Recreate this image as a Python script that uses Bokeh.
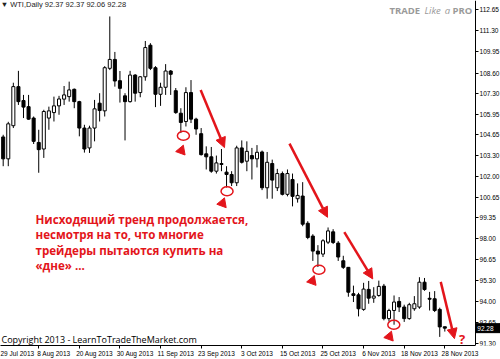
from bokeh.plotting import figure
from bokeh.models import (Range1d, FixedTicker, PrintfTickFormatter, Label, LinearAxis,
                          Arrow, NormalHead, ColumnDataSource)
from bokeh.core.properties import value
from bokeh.embed import file_html
from bokeh.resources import INLINE

RED = "#e3151b"

# ---- daily WTI bars, 30 Jul 2013 .. 28 Nov 2013 (one entry per trading day)
opens = [104.51, 103.11, 105.23, 107.73, 106.84, 106.45, 105.72, 104.16, 103.74, 105.72,
         106.07, 106.50, 106.93, 107.09, 107.56, 106.77, 105.08, 103.81, 105.08, 106.67,
         106.18, 108.90, 109.47, 108.11, 107.14, 106.77, 108.47, 107.35, 108.36, 110.38,
         108.94, 107.24, 107.69, 108.73, 107.47, 106.03, 105.50, 107.35, 105.65, 104.72,
         103.43, 103.24, 102.32, 102.81, 102.26, 102.11, 101.58, 103.81, 102.96, 103.32,
         103.11, 103.55, 101.26, 102.81, 101.26, 102.17, 100.84, 101.79, 100.56, 100.73,
         98.99, 98.17, 97.21, 97.02, 97.78, 98.44, 97.72, 96.59, 96.17, 94.48,
         94.41, 93.48, 94.76, 94.20, 94.37, 94.97, 92.89, 93.41, 93.99, 93.63,
         92.89, 93.52, 93.63, 95.22, 94.19, 94.16, 93.48, 92.37]
highs = [104.65, 105.48, 107.98, 108.74, 107.20, 107.20, 105.82, 104.97, 106.25, 106.45,
         107.09, 107.14, 107.77, 108.05, 107.61, 106.82, 105.29, 105.23, 106.88, 107.31,
         109.04, 112.22, 109.95, 108.73, 107.31, 108.74, 108.53, 108.41, 110.65, 110.51,
         109.04, 107.98, 109.17, 108.79, 107.64, 106.35, 107.69, 108.15, 105.74, 105.08,
         103.91, 103.87, 103.32, 103.74, 102.64, 102.32, 103.95, 104.29, 104.23, 103.81,
         103.99, 103.64, 103.55, 103.06, 102.47, 102.30, 102.43, 102.17, 101.54, 101.62,
         99.12, 98.29, 97.59, 97.97, 98.72, 98.61, 97.85, 96.91, 96.19, 95.00,
         94.54, 95.18, 95.30, 94.90, 95.32, 95.11, 93.52, 94.37, 94.27, 93.78,
         93.90, 94.33, 95.54, 95.49, 94.60, 94.65, 93.59, 92.37]
lows = [102.64, 102.64, 105.08, 106.56, 105.72, 105.61, 104.06, 102.22, 103.17, 104.97,
        105.50, 105.93, 106.56, 106.77, 106.35, 104.55, 103.51, 103.49, 104.23, 105.50,
        105.82, 108.79, 107.73, 106.71, 104.29, 106.71, 106.77, 107.05, 108.11, 108.79,
        106.42, 106.50, 107.20, 107.20, 105.99, 104.76, 105.18, 105.40, 104.65, 103.32,
        102.43, 102.22, 102.17, 102.32, 101.28, 101.37, 101.37, 102.81, 102.32, 101.79,
        102.56, 101.11, 100.56, 100.56, 101.05, 100.77, 100.71, 100.07, 100.31, 98.80,
        97.97, 96.58, 96.19, 96.83, 97.66, 97.66, 96.58, 96.07, 94.29, 93.95,
        93.03, 93.39, 93.84, 93.90, 94.29, 92.78, 92.70, 92.50, 93.31, 92.68,
        92.82, 93.39, 93.52, 94.67, 93.41, 93.31, 91.72, 92.06]
closes = [103.11, 105.35, 107.73, 106.77, 106.42, 105.65, 104.23, 103.70, 106.14, 106.18,
          106.50, 106.94, 107.20, 107.52, 106.77, 105.08, 103.74, 105.08, 106.31, 106.20,
          108.94, 109.47, 108.09, 107.62, 106.77, 108.47, 107.31, 108.36, 110.23, 108.90,
          107.24, 107.69, 108.73, 108.52, 106.07, 105.44, 107.35, 105.65, 105.02, 103.38,
          103.24, 102.32, 102.85, 102.75, 102.11, 101.58, 103.81, 102.89, 103.59, 103.11,
          103.53, 101.26, 102.89, 101.75, 102.17, 100.84, 102.17, 100.71, 100.77, 98.93,
          98.08, 97.21, 97.02, 97.87, 98.50, 97.76, 96.83, 96.17, 94.58, 94.37,
          93.52, 94.78, 94.20, 94.33, 94.95, 92.89, 93.41, 93.95, 93.63, 92.89,
          93.78, 93.84, 95.22, 94.75, 94.13, 93.41, 92.36, 92.28]

# ---- axis ticks
date_tick_idx = [-1, 7, 15, 23, 31, 39, 47, 55, 63, 71, 79, 87]
date_tick_labels = ["29 Jul 2013", "8 Aug 2013", "20 Aug 2013", "30 Aug 2013", "11 Sep 2013",
                    "23 Sep 2013", "3 Oct 2013", "15 Oct 2013", "25 Oct 2013", "6 Nov 2013",
                    "18 Nov 2013", "28 Nov 2013"]
price_ticks = [112.65, 111.30, 109.95, 108.60, 107.30, 105.95, 104.65, 103.30, 102.00,
               100.65, 99.35, 98.00, 96.65, 95.30, 94.00, 92.65, 91.30]
last_price = 92.28
header_text = "\u25bc WTI,Daily 92.37 92.37 92.06 92.28"

# ---- annotations (bar index / price)
arrow_x0 = [38.9, 56.4, 67.2, 86.2]
arrow_y0 = [107.52, 104.08, 98.42, 95.24]
arrow_x1 = [43.6, 63.9, 72.8, 88.9]
arrow_y1 = [103.83, 99.37, 95.43, 91.61]
ring_x = [35.5, 44.1, 62.2, 76.95]
ring_y = [104.59, 101.04, 96.02, 92.50]
dart_x = [35.1, 43.2, 60.9, 76.1]
dart_y = [103.64, 100.27, 95.30, 91.74]
note_lines = ["Нисходящий тренд продолжается,", "несмотря на то, что многие",
              "трейдеры пытаются купить на", "«дне» ..."]
note_y = [99.25, 98.26, 97.27, 96.27]

X_LEFT, CHART_END, X_RIGHT = -0.53, 93.05, 97.97   # chart area ends where the price scale starts

idx = list(range(len(opens)))
bull = [c >= o for o, c in zip(opens, closes)]
src = ColumnDataSource(dict(
    x=idx, h=highs, l=lows,
    top=[max(o, c) for o, c in zip(opens, closes)],
    bottom=[min(o, c) for o, c in zip(opens, closes)],
    fill=["white" if b else "black" for b in bull],
))

p = figure(width=500, height=359, output_backend="svg", toolbar_location=None,
           x_range=Range1d(X_LEFT, X_RIGHT), y_range=Range1d(91.17, 113.24),
           y_axis_location=None, min_border_left=0, min_border_top=0,
           min_border_right=0, min_border_bottom=12)
p.outline_line_color = None
p.grid.visible = False
p.background_fill_color = "white"
p.border_fill_color = "white"

p.segment("x", "h", "x", "l", source=src, color="black", line_width=1)
p.vbar(x="x", width=0.6, top="top", bottom="bottom", fill_color="fill",
       line_color="black", line_width=1, source=src)

# price scale (right side of the chart area)
ya = LinearAxis(fixed_location=CHART_END)
ya.ticker = FixedTicker(ticks=price_ticks)
ya.formatter = PrintfTickFormatter(format="%.2f")
ya.major_label_text_font = "Liberation Sans"
ya.major_label_text_font_size = "6.5px"
ya.major_label_text_color = "black"
ya.major_tick_out = 3
ya.major_tick_in = 0
ya.minor_tick_out = 0
ya.minor_tick_in = 0
ya.major_label_standoff = 1
ya.axis_line_color = "black"
p.add_layout(ya, "right")

# last price tag on the price scale
tag_x = CHART_END + (X_RIGHT - CHART_END) / 2
p.rect(x=[tag_x], y=[last_price], width=24, height=9, width_units="screen",
       height_units="screen", fill_color="black", line_color="black")
p.text(x=[CHART_END + 0.35], y=[last_price], text=["%.2f" % last_price],
       text_font=value("Liberation Sans"), text_font_size="6.5px", text_color="white",
       text_baseline="middle", text_align="left")

# date axis
xa = p.xaxis[0]
lab_pos = [i + 3 for i in date_tick_idx]
lab_pos[0] = date_tick_idx[0] + 2.5
xa.ticker = FixedTicker(ticks=lab_pos, minor_ticks=date_tick_idx)
xa.major_label_overrides = {lp: t for lp, t in zip(lab_pos, date_tick_labels)}
xa.bounds = (X_LEFT, CHART_END)
xa.major_label_text_font = "Liberation Sans"
xa.major_label_text_font_size = "6.5px"
xa.major_label_text_color = "black"
xa.major_tick_out = 0
xa.major_tick_in = 0
xa.minor_tick_out = 3
xa.minor_tick_in = 0
xa.major_label_standoff = 1
xa.axis_line_color = "black"

# annotations
asrc = ColumnDataSource(dict(x0=arrow_x0, y0=arrow_y0, x1=arrow_x1, y1=arrow_y1))
p.add_layout(Arrow(end=NormalHead(size=10, fill_color=RED, line_color=RED),
                   x_start="x0", y_start="y0", x_end="x1", y_end="y1",
                   line_color=RED, line_width=2.5, source=asrc))
p.ellipse(x=ring_x, y=ring_y, width=12, height=9, width_units="screen",
          height_units="screen", fill_color=None, line_color=RED, line_width=1.5)
p.scatter(x=dart_x, y=dart_y, marker="triangle", size=10, angle=-0.35,
          fill_color=RED, line_color=RED)
p.text(x=[6.36] * len(note_lines), y=note_y, text=note_lines,
       text_font=value("Open Sans"), text_font_style="bold",
       text_font_size="11.6px", text_color=RED, text_baseline="middle", text_align="left")
p.text(x=[90.4], y=[91.61], text=["?"], text_font=value("Open Sans"),
       text_font_style="bold", text_font_size="13px", text_color=RED,
       text_baseline="middle", text_align="center")

p.add_layout(Label(x=-0.5, y=112.99, text=header_text, text_font="Liberation Sans",
                   text_font_size="7.5px", text_color="#222222", text_baseline="middle"))
p.add_layout(Label(x=-0.34, y=91.55, text="Copyright 2013 - LearnToTradeTheMarket.com",
                   text_font="Open Sans", text_font_size="9px", text_color="black",
                   text_baseline="middle"))
# watermark
for xx, t, st in [(76.1, "TRADE", "bold"), (83.0, "Like", "italic"),
                  (87.0, "a", "italic"), (88.5, "PRO", "bold")]:
    p.add_layout(Label(x=xx, y=112.61, text=t, text_font="Open Sans",
                       text_font_style=st, text_font_size="9.5px", text_color="#9a9a9a",
                       text_baseline="middle"))

open("out.html", "w").write(file_html(p, INLINE))
